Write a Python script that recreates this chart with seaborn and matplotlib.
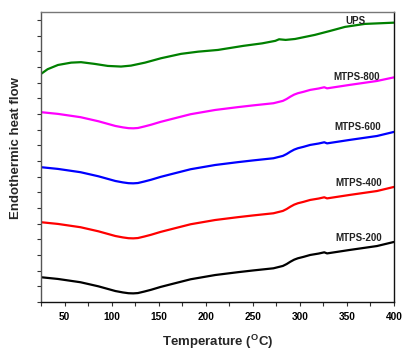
import numpy as np
import pandas as pd
import matplotlib
matplotlib.use("Agg")
import matplotlib.pyplot as plt
from matplotlib.ticker import MultipleLocator
import seaborn as sns

# ---- data (arbitrary heat-flow units, stacked) ----
T_UPS = [25, 32, 43, 57, 67.5, 82, 96, 110, 120.6, 135.5, 152.5, 173.8, 192, 213,
         240, 260, 274, 278, 285, 295, 316, 332, 348, 369, 400]
Y_UPS = [14.55, 14.85, 15.12, 15.27, 15.30, 15.19, 15.06, 15.02, 15.08, 15.27, 15.55,
         15.83, 15.97, 16.08, 16.34, 16.50, 16.66, 16.76, 16.72, 16.78, 17.04, 17.29,
         17.55, 17.74, 17.82]

T_MTPS = [25, 43, 67, 86, 104, 112, 118, 123, 128, 135, 142, 152, 163, 184, 210, 234,
          250, 272, 282, 286, 290, 294, 298, 304, 311, 320, 326, 329, 353, 382, 400]
Y_800 = [12.11, 12.00, 11.79, 11.53, 11.23, 11.14, 11.09, 11.08, 11.10, 11.20, 11.31,
         11.49, 11.66, 11.98, 12.25, 12.43, 12.54, 12.68, 12.83, 12.95, 13.10, 13.23,
         13.32, 13.41, 13.53, 13.62, 13.70, 13.63, 13.85, 14.10, 14.33]
Y_600 = [8.60, 8.49, 8.28, 8.02, 7.72, 7.63, 7.58, 7.57, 7.59, 7.69, 7.80, 7.98, 8.15,
         8.47, 8.74, 8.92, 9.03, 9.17, 9.32, 9.44, 9.59, 9.72, 9.81, 9.90, 10.02, 10.11,
         10.19, 10.12, 10.34, 10.59, 10.85]
Y_400 = [5.09, 4.98, 4.77, 4.51, 4.21, 4.12, 4.07, 4.06, 4.08, 4.18, 4.29, 4.47, 4.64,
         4.96, 5.23, 5.41, 5.52, 5.66, 5.81, 5.93, 6.08, 6.21, 6.30, 6.39, 6.51, 6.60,
         6.68, 6.61, 6.83, 7.08, 7.34]
Y_200 = [1.58, 1.47, 1.26, 1.00, 0.70, 0.61, 0.56, 0.55, 0.57, 0.67, 0.78, 0.96, 1.13,
         1.45, 1.72, 1.90, 2.01, 2.15, 2.30, 2.42, 2.57, 2.70, 2.79, 2.88, 3.00, 3.09,
         3.17, 3.10, 3.32, 3.57, 3.83]

SERIES = ["UPS", "MTPS-800", "MTPS-600", "MTPS-400", "MTPS-200"]
COLORS = ["#008000", "#FF00FF", "#0000FF", "#FF0000", "#000000"]
LABEL_X = [359, 360, 361, 363, 363]
LABEL_Y = [17.93, 14.36, 11.17, 7.60, 4.10]
X_TICKS = [50, 100, 150, 200, 250, 300, 350, 400]

frames = [pd.DataFrame({"T": T_UPS, "Y": Y_UPS, "s": "UPS"})]
for name, ys in zip(SERIES[1:], [Y_800, Y_600, Y_400, Y_200]):
    frames.append(pd.DataFrame({"T": T_MTPS, "Y": ys, "s": name}))
df = pd.concat(frames, ignore_index=True)

sns.set_style("ticks")
plt.rcParams["font.family"] = ["Liberation Sans", "DejaVu Sans"]
plt.rcParams["mathtext.fontset"] = "custom"
plt.rcParams["mathtext.rm"] = "Liberation Sans"
plt.rcParams["mathtext.bf"] = "Liberation Sans:bold"

fig = plt.figure(figsize=(4.04, 3.51), dpi=100)
ax = fig.add_axes([0.1015, 0.1396, 0.8735, 0.8262])

sns.lineplot(data=df, x="T", y="Y", hue="s", hue_order=SERIES,
             palette=dict(zip(SERIES, COLORS)), linewidth=1.6, legend=False,
             sort=False, estimator=None, ax=ax)
for line in ax.lines:
    line.set_solid_joinstyle("round")
    line.set_solid_capstyle("round")

for name, lx, ly in zip(SERIES, LABEL_X, LABEL_Y):
    ax.text(lx, ly, name, fontsize=7, fontweight="bold", ha="center",
            va="center", color="#222222")

ax.set_xlim(25, 400)
ax.set_ylim(0, 18.5)
ax.set_xticks(X_TICKS)
ax.set_xticklabels([str(v) for v in X_TICKS], fontsize=7.3, fontweight="bold")
ax.xaxis.set_minor_locator(MultipleLocator(25))
ax.yaxis.set_major_locator(MultipleLocator(1))
ax.set_yticklabels([])
ax.tick_params(axis="both", which="both", direction="out", length=3, width=0.8,
               colors="#333333", pad=4)
ax.tick_params(axis="x", labelcolor="black")

ax.set_xlabel(r"Temperature ($\mathbf{^{O}}$C)", fontsize=9.5, fontweight="bold",
              labelpad=8)
ax.set_ylabel("Endothermic heat flow", fontsize=9.5, fontweight="bold")
ax.yaxis.set_label_coords(-0.055, 0.53)

for side in ["left", "bottom", "right", "top"]:
    ax.spines[side].set_visible(True)
    ax.spines[side].set_linewidth(1.0)
ax.spines["top"].set_color("#777777")
ax.spines["left"].set_color("#555555")
ax.spines["bottom"].set_color("#111111")
ax.spines["right"].set_color("#111111")

fig.savefig("out.png", dpi=100)
